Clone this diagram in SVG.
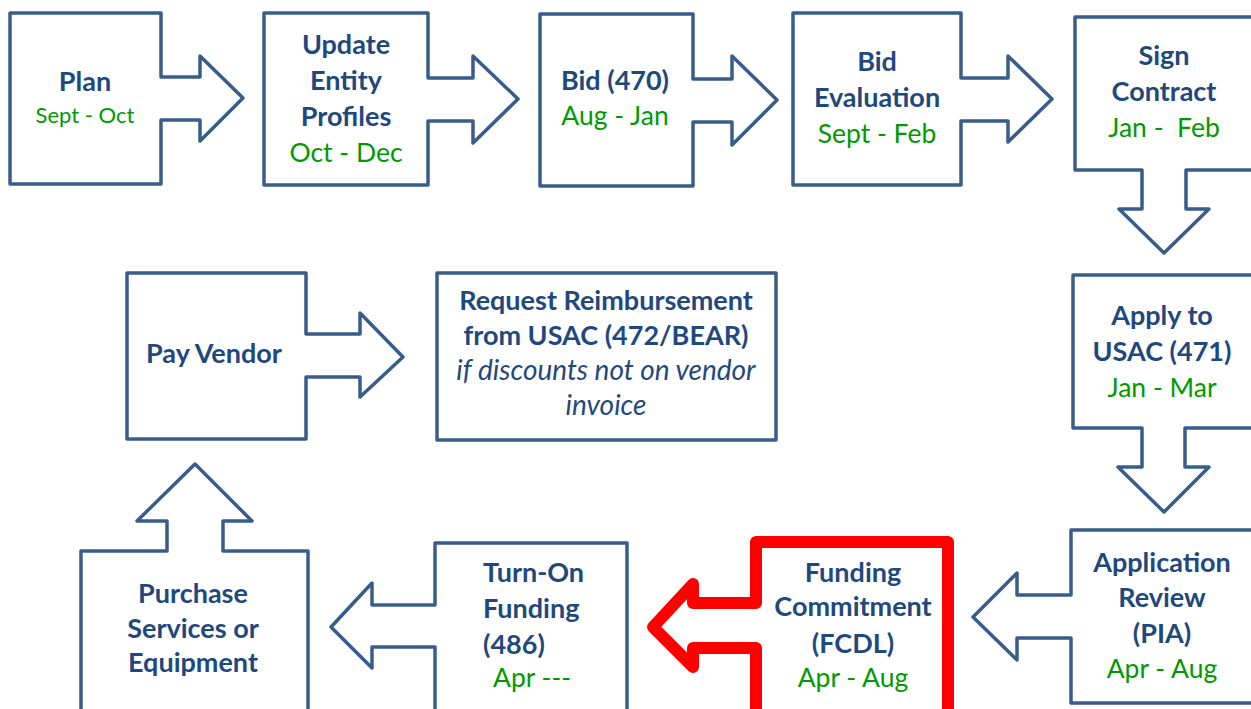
<svg xmlns="http://www.w3.org/2000/svg" width="1251" height="709" viewBox="0 0 1251 709">
<style>
.s{fill:#fff;stroke:#385D8A;stroke-width:3.5;stroke-linejoin:round}
.r{fill:#fff;stroke:#FF0000;stroke-width:12;stroke-linejoin:round}
text{font-family:Lato,"Open Sans","Liberation Sans",sans-serif;text-anchor:middle}
.b{font-weight:bold;font-size:27px;fill:#1F497D}
.d{font-size:26.5px;fill:#009A00}
.i{font-style:italic;font-size:28px;fill:#1F497D}
</style>
<rect width="1251" height="709" fill="#fff"/>
<g id="connectors"/>
<g id="plan">
<path class="s" d="M10,13 H161 V77 H200 V56 L243,98 L200,141 V120 H161 V184 H10 Z"/>
<text class="b" x="85" y="91">Plan</text>
<text class="d" x="85" y="123" style="font-size:22px">Sept - Oct</text>
</g>
<g id="update">
<path class="s" d="M264,13 H428 V78 H473 V56 L518,99 L473,143 V121 H428 V185 H264 Z"/>
<text class="b" x="346" y="54">Update</text>
<text class="b" x="346" y="90">Entity</text>
<text class="b" x="346" y="126">Profiles</text>
<text class="d" x="346" y="162">Oct - Dec</text>
</g>
<g id="bid">
<path class="s" d="M540,14 H693 V79 H732 V56 L777,100 L732,145 V122 H693 V186 H540 Z"/>
<text class="b" x="615" y="90">Bid (470)</text>
<text class="d" x="615" y="125">Aug - Jan</text>
</g>
<g id="bideval">
<path class="s" d="M793,13 H961 V78 H1008 V56 L1052,99 L1008,142 V121 H961 V185 H793 Z"/>
<text class="b" x="877" y="71">Bid</text>
<text class="b" x="877" y="107">Evaluation</text>
<text class="d" x="877" y="143">Sept - Feb</text>
</g>
<g id="sign">
<path class="s" d="M1075,17 H1256 V170 H1186 V209 H1209 L1164,253 L1119,209 H1142 V170 H1075 Z"/>
<text class="b" x="1164" y="65">Sign</text>
<text class="b" x="1164" y="101">Contract</text>
<text class="d" x="1164" y="137" xml:space="preserve">Jan -  Feb</text>
</g>
<g id="apply">
<path class="s" d="M1073,275 H1256 V428 H1185 V467 H1209 L1164,512 L1118,467 H1142 V428 H1073 Z"/>
<text class="b" x="1162" y="325">Apply to</text>
<text class="b" x="1162" y="361">USAC (471)</text>
<text class="d" x="1162" y="397">Jan - Mar</text>
</g>
<g id="review">
<path class="s" d="M1071,530 H1256 V703 H1071 V638 H1017 V660 L973,617 L1017,573 V595 H1071 Z"/>
<text class="b" x="1162" y="572">Application</text>
<text class="b" x="1162" y="607">Review</text>
<text class="b" x="1162" y="643">(PIA)</text>
<text class="d" x="1162" y="678">Apr - Aug</text>
</g>
<g id="fcdl">
<path class="r" d="M756,542 H948 V716 H756 V648 H693 V667 L653,627 L693,584 V603 H756 Z"/>
<text class="b" x="853" y="582">Funding</text>
<text class="b" x="853" y="616">Commitment</text>
<text class="b" x="853" y="653">(FCDL)</text>
<text class="d" x="853" y="687">Apr - Aug</text>
</g>
<g id="turnon">
<path class="s" d="M435,543 H627 V716 H435 V647 H372 V668 L331,627 L372,583 V605 H435 Z"/>
<text class="b" x="483" y="582" style="text-anchor:start">Turn-On</text>
<text class="b" x="483" y="618" style="text-anchor:start">Funding</text>
<text class="b" x="483" y="654" style="text-anchor:start">(486)</text>
<text class="d" x="493" y="687" style="text-anchor:start">Apr ---</text>
</g>
<g id="purchase">
<path class="s" d="M81,551 H167 V521 H137 L195,464 L252,521 H223 V551 H308 V716 H81 Z"/>
<text class="b" x="193" y="603">Purchase</text>
<text class="b" x="193" y="638">Services or</text>
<text class="b" x="193" y="672">Equipment</text>
</g>
<g id="payvendor">
<path class="s" d="M127,273 H306 V334 H360 V313 L403,357 L360,397 V377 H306 V439 H127 Z"/>
<text class="b" x="214" y="363">Pay Vendor</text>
</g>
<g id="reimburse">
<rect class="s" x="437" y="273" width="339" height="167"/>
<text class="b" x="606" y="310">Request Reimbursement</text>
<text class="b" x="606" y="345">from USAC (472/BEAR)</text>
<text class="i" x="606" y="380">if discounts not on vendor</text>
<text class="i" x="606" y="415">invoice</text>
</g>
</svg>
